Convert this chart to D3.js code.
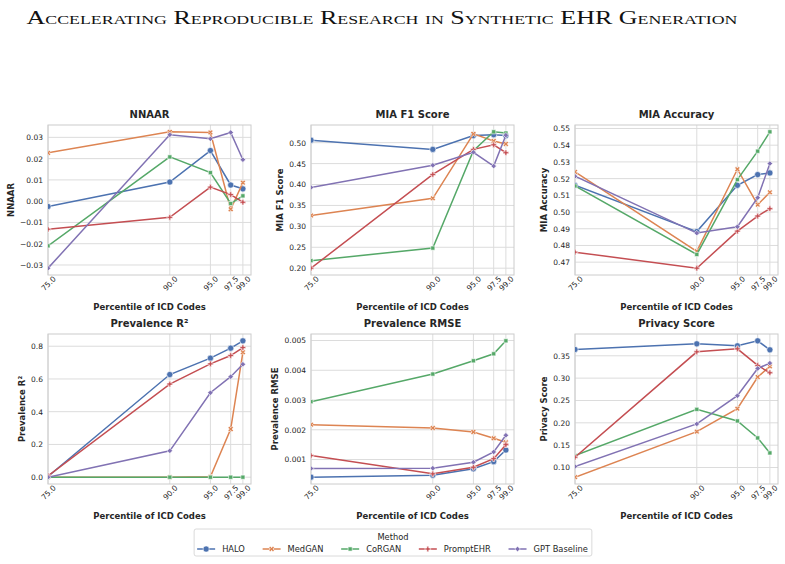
<!DOCTYPE html>
<html>
<head>
<meta charset="utf-8">
<script src="https://cdn.jsdelivr.net/npm/d3@7"></script>
<style>
  body { margin: 0; background: #fff; }
  text { font-family: "DejaVu Sans", sans-serif; }
</style>
</head>
<body>
<div id="chart"></div>
<script>
const percentiles = [75, 90, 95, 97.5, 99];
const percentileLabels = ["75.0", "90.0", "95.0", "97.5", "99.0"];
const methods = ["HALO", "MedGAN", "CoRGAN", "PromptEHR", "GPT Baseline"];
const methodColors = ["#4c72b0", "#dd8452", "#55a868", "#c44e52", "#8172b3"];
const methodMarkers = ["circle", "x", "square", "plus", "diamond"];

// one row per method, same order as methods
const nnaarValues = [
    [-0.0025, 0.0090, 0.0238, 0.0076, 0.0058],
    [0.0227, 0.0326, 0.0323, -0.0038, 0.0087],
    [-0.0210, 0.0208, 0.0134, -0.0011, 0.0025],
    [-0.0132, -0.0076, 0.0066, 0.0031, -0.0005],
    [-0.0315, 0.0312, 0.0293, 0.0323, 0.0195]
];
const nnaarTicks = [-0.03, -0.02, -0.01, 0.00, 0.01, 0.02, 0.03];

const miaF1Values = [
    [0.506, 0.484, 0.517, 0.519, 0.517],
    [0.326, 0.367, 0.521, 0.504, 0.497],
    [0.218, 0.248, 0.481, 0.526, 0.523],
    [0.200, 0.424, 0.484, 0.495, 0.476],
    [0.393, 0.446, 0.477, 0.444, 0.518]
];
const miaF1Ticks = [0.20, 0.25, 0.30, 0.35, 0.40, 0.45, 0.50];

const miaAccValues = [
    [0.5160, 0.4883, 0.5160, 0.5224, 0.5234],
    [0.5240, 0.4765, 0.5256, 0.5044, 0.5118],
    [0.5156, 0.4746, 0.5194, 0.5364, 0.5480],
    [0.4760, 0.4664, 0.4886, 0.4976, 0.5020],
    [0.5214, 0.4874, 0.4912, 0.5086, 0.5290]
];
const miaAccTicks = [0.47, 0.48, 0.49, 0.50, 0.51, 0.52, 0.53, 0.54, 0.55];

const prevR2Values = [
    [0.004, 0.627, 0.727, 0.788, 0.833],
    [0.000, 0.000, 0.003, 0.294, 0.763],
    [0.000, 0.000, 0.000, 0.000, 0.000],
    [0.008, 0.569, 0.692, 0.743, 0.792],
    [0.000, 0.161, 0.516, 0.614, 0.690]
];
const prevR2Ticks = [0.0, 0.2, 0.4, 0.6, 0.8];

const prevRmseValues = [
    [0.000408, 0.000475, 0.000690, 0.000930, 0.001320],
    [0.002173, 0.002060, 0.001927, 0.001715, 0.001580],
    [0.002944, 0.003872, 0.004318, 0.004553, 0.004989],
    [0.001134, 0.000520, 0.000740, 0.001030, 0.001500],
    [0.000700, 0.000710, 0.000910, 0.001257, 0.001816]
];
const prevRmseTicks = [0.001, 0.002, 0.003, 0.004, 0.005];

const privacyValues = [
    [0.3641, 0.3768, 0.3723, 0.3835, 0.3634],
    [0.0784, 0.1804, 0.2317, 0.3024, 0.3262],
    [0.1268, 0.2302, 0.2042, 0.1662, 0.1327],
    [0.1230, 0.3589, 0.3656, 0.3284, 0.3120],
    [0.1022, 0.1975, 0.2607, 0.3217, 0.3336]
];
const privacyTicks = [0.10, 0.15, 0.20, 0.25, 0.30, 0.35];

const panels = [
    { title: "NNAAR", ylabel: "NNAAR", values: nnaarValues, ticks: nnaarTicks, fmt: ".2f" },
    { title: "MIA F1 Score", ylabel: "MIA F1 Score", values: miaF1Values, ticks: miaF1Ticks, fmt: ".2f" },
    { title: "MIA Accuracy", ylabel: "MIA Accuracy", values: miaAccValues, ticks: miaAccTicks, fmt: ".2f" },
    { title: "Prevalence R\u00b2", ylabel: "Prevalence R\u00b2", values: prevR2Values, ticks: prevR2Ticks, fmt: ".1f" },
    { title: "Prevalence RMSE", ylabel: "Prevalence RMSE", values: prevRmseValues, ticks: prevRmseTicks, fmt: ".3f" },
    { title: "Privacy Score", ylabel: "Privacy Score", values: privacyValues, ticks: privacyTicks, fmt: ".2f" }
];

const width = 785, height = 564;
const colLeft = [48, 311, 575];
const rowTop = [125, 334];
const plotW = 203, plotH = 150;
const textColor = "#262626";

const svg = d3.select("#chart").append("svg")
    .attr("width", width)
    .attr("height", height);

svg.append("rect").attr("width", width).attr("height", height).attr("fill", "#fff");

// figure title
svg.append("text")
    .attr("x", 382)
    .attr("y", 24)
    .attr("text-anchor", "middle")
    .attr("textLength", 711)
    .attr("lengthAdjust", "spacingAndGlyphs")
    .style("font-family", "'Liberation Serif', serif")
    .style("font-variant", "small-caps")
    .style("font-size", "19px")
    .attr("fill", "#111")
    .text("Accelerating Reproducible Research in Synthetic EHR Generation");

function markerPath(kind) {
    if (kind === "circle") return d3.symbol(d3.symbolCircle, 30)();
    if (kind === "square") return d3.symbol(d3.symbolSquare, 17)();
    if (kind === "diamond") return d3.symbol(d3.symbolSquare, 15)();
    return d3.symbol(d3.symbolCross, 18)();
}
function markerRotate(kind) {
    return (kind === "x" || kind === "diamond") ? 45 : 0;
}

panels.forEach((p, i) => {
    const left = colLeft[i % 3];
    const top = rowTop[Math.floor(i / 3)];
    const g = svg.append("g").attr("transform", `translate(${left},${top})`);

    const x = d3.scaleLinear().domain([75, 100]).range([0, plotW]);
    const [lo, hi] = d3.extent(p.values.flat());
    const pad = (hi - lo) * 0.05;
    const y = d3.scaleLinear().domain([lo - pad, hi + pad]).range([plotH, 0]);

    // grid
    g.selectAll(".ygrid").data(p.ticks).join("line")
        .attr("class", "ygrid")
        .attr("x1", 0).attr("x2", plotW)
        .attr("y1", d => y(d)).attr("y2", d => y(d))
        .attr("stroke", "#dcdcdc").attr("stroke-width", 1);
    g.selectAll(".xgrid").data(percentiles).join("line")
        .attr("class", "xgrid")
        .attr("x1", d => x(d)).attr("x2", d => x(d))
        .attr("y1", 0).attr("y2", plotH)
        .attr("stroke", "#dcdcdc").attr("stroke-width", 1);

    g.append("rect")
        .attr("width", plotW).attr("height", plotH)
        .attr("fill", "none").attr("stroke", "#cccccc").attr("stroke-width", 1);

    // y axis
    const yAxis = g.append("g")
        .call(d3.axisLeft(y).tickValues(p.ticks).tickFormat(d3.format(p.fmt)).tickSize(0).tickPadding(5));
    yAxis.select(".domain").remove();
    yAxis.attr("font-size", 7.5).attr("font-family", "DejaVu Sans");
    yAxis.selectAll("text").attr("fill", textColor);

    // x axis, labels rotated 45
    const xAxis = g.append("g")
        .attr("transform", `translate(0,${plotH})`)
        .call(d3.axisBottom(x).tickValues(percentiles).tickFormat((d, j) => percentileLabels[j]).tickSize(0));
    xAxis.select(".domain").remove();
    xAxis.attr("font-size", 7.5).attr("font-family", "DejaVu Sans");
    xAxis.selectAll("text")
        .attr("fill", textColor)
        .attr("y", 0)
        .attr("dy", "0.35em")
        .attr("text-anchor", "middle")
        .attr("transform", "translate(0,8.5) rotate(-45)");

    // titles
    g.append("text")
        .attr("x", plotW / 2).attr("y", -7.5)
        .attr("text-anchor", "middle")
        .attr("font-size", 10).attr("font-weight", "bold")
        .attr("fill", textColor)
        .text(p.title);

    g.append("text")
        .attr("x", plotW / 2).attr("y", plotH + 34.5)
        .attr("text-anchor", "middle")
        .attr("font-size", 8.5).attr("font-weight", "bold")
        .attr("fill", textColor)
        .text("Percentile of ICD Codes");

    const tickLeft = yAxis.node().getBBox().x;
    g.append("text")
        .attr("transform", `translate(${tickLeft - 6.5},${plotH / 2}) rotate(-90)`)
        .attr("text-anchor", "middle")
        .attr("font-size", 8.5).attr("font-weight", "bold")
        .attr("fill", textColor)
        .text(p.ylabel);

    // series
    const clipId = "clip" + i;
    g.append("clipPath").attr("id", clipId)
        .append("rect").attr("width", plotW).attr("height", plotH);
    const plot = g.append("g").attr("clip-path", `url(#${clipId})`);

    const line = d3.line()
        .x((d, j) => x(percentiles[j]))
        .y(d => y(d));

    p.values.forEach((vals, m) => {
        plot.append("path")
            .datum(vals)
            .attr("d", line)
            .attr("fill", "none")
            .attr("stroke", methodColors[m])
            .attr("stroke-width", 1.5);
        plot.selectAll(".mk" + m).data(vals).join("path")
            .attr("class", "mk" + m)
            .attr("d", markerPath(methodMarkers[m]))
            .attr("transform", (d, j) => `translate(${x(percentiles[j])},${y(d)}) rotate(${markerRotate(methodMarkers[m])})`)
            .attr("fill", methodColors[m])
            .attr("stroke", "#fff")
            .attr("stroke-width", 0.6);
    });
});

// legend
const legend = svg.append("g");
const legendFont = 8.3;
const lineLen = 18, textGap = 7, itemGap = 17.7;
const items = legend.selectAll(".item").data(methods).join("g").attr("class", "item");
items.append("text")
    .attr("font-size", legendFont)
    .attr("fill", textColor)
    .attr("y", 552)
    .text(d => d);
const widths = [];
items.selectAll("text").each(function() { widths.push(this.getComputedTextLength()); });
const total = d3.sum(widths) + methods.length * (lineLen + textGap) + (methods.length - 1) * itemGap;
let cursor = 392.5 - total / 2;
const boxLeft = cursor - 3, boxRight = cursor + total + 4;
legend.insert("rect", ":first-child")
    .attr("x", boxLeft).attr("y", 529)
    .attr("width", boxRight - boxLeft).attr("height", 27)
    .attr("rx", 2)
    .attr("fill", "#fff").attr("stroke", "#d0d0d0").attr("stroke-width", 0.8);
legend.append("text")
    .attr("x", (boxLeft + boxRight) / 2).attr("y", 539.5)
    .attr("text-anchor", "middle")
    .attr("font-size", legendFont)
    .attr("fill", textColor)
    .text("Method");
items.each(function(d, m) {
    const it = d3.select(this);
    const x0 = cursor;
    it.insert("line", "text")
        .attr("x1", x0).attr("x2", x0 + lineLen)
        .attr("y1", 549).attr("y2", 549)
        .attr("stroke", methodColors[m]).attr("stroke-width", 1.5);
    it.insert("path", "text")
        .attr("d", markerPath(methodMarkers[m]))
        .attr("transform", `translate(${x0 + lineLen / 2},549) rotate(${markerRotate(methodMarkers[m])})`)
        .attr("fill", methodColors[m])
        .attr("stroke", "#fff").attr("stroke-width", 0.6);
    it.select("text").attr("x", x0 + lineLen + textGap);
    cursor += lineLen + textGap + widths[m] + itemGap;
});
</script>
</body>
</html>
